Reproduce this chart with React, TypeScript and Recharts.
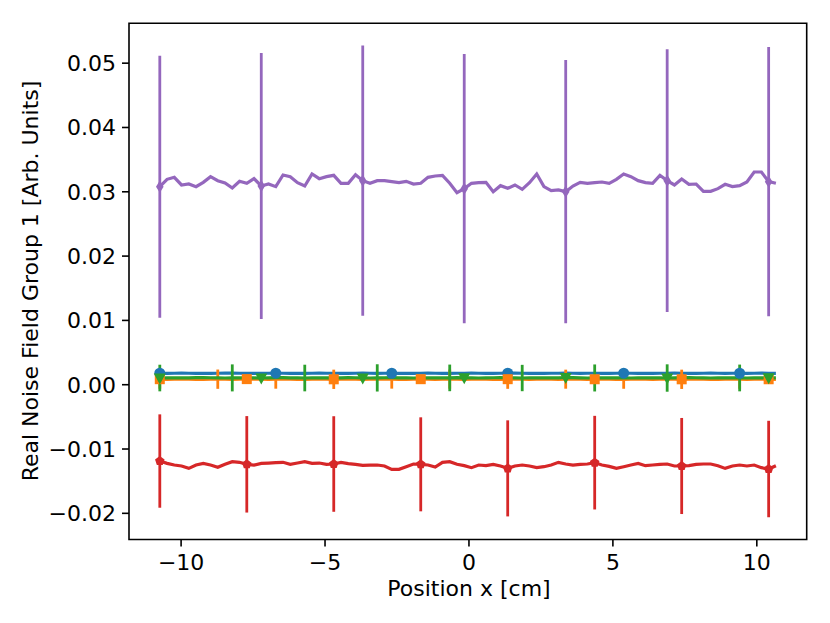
import React from 'react';
import { ComposedChart, Line, XAxis, YAxis, ErrorBar, ReferenceArea } from 'recharts';

// ---------- data ----------
const xValues = [
  -10.740, -10.488, -10.236, -9.985, -9.733, -9.481, -9.229, -8.977, -8.726, -8.474,
  -8.222, -7.970, -7.718, -7.467, -7.215, -6.963, -6.711, -6.459, -6.208, -5.956,
  -5.704, -5.452, -5.200, -4.949, -4.697, -4.445, -4.193, -3.941, -3.690, -3.438,
  -3.186, -2.934, -2.682, -2.431, -2.179, -1.927, -1.675, -1.423, -1.172, -0.920,
  -0.668, -0.416, -0.164, 0.087, 0.339, 0.591, 0.843, 1.095, 1.346, 1.598,
  1.850, 2.102, 2.354, 2.605, 2.857, 3.109, 3.361, 3.613, 3.864, 4.116,
  4.368, 4.620, 4.872, 5.123, 5.375, 5.627, 5.879, 6.131, 6.382, 6.634,
  6.886, 7.138, 7.390, 7.641, 7.893, 8.145, 8.397, 8.649, 8.900, 9.152,
  9.404, 9.656, 9.908, 10.159, 10.411, 10.663,
];

const blueValues = [
  0.00178, 0.00177, 0.00178, 0.00179, 0.00178, 0.00177, 0.00176, 0.00177, 0.00178, 0.00179,
  0.00179, 0.00178, 0.00177, 0.00177, 0.00178, 0.00178, 0.00179, 0.00178, 0.00177, 0.00176,
  0.00177, 0.00178, 0.00179, 0.00178, 0.00178, 0.00177, 0.00177, 0.00178, 0.00179, 0.00178,
  0.00177, 0.00178, 0.00178, 0.00177, 0.00176, 0.00177, 0.00178, 0.00179, 0.00178, 0.00177,
  0.00177, 0.00178, 0.00178, 0.00179, 0.00178, 0.00177, 0.00177, 0.00178, 0.00179, 0.00179,
  0.00178, 0.00177, 0.00176, 0.00177, 0.00178, 0.00178, 0.00179, 0.00178, 0.00177, 0.00178,
  0.00178, 0.00177, 0.00177, 0.00178, 0.00179, 0.00178, 0.00177, 0.00176, 0.00177, 0.00178,
  0.00178, 0.00179, 0.00178, 0.00177, 0.00177, 0.00178, 0.00179, 0.00178, 0.00177, 0.00178,
  0.00178, 0.00177, 0.00178, 0.00179, 0.00178, 0.00177,
];

const orangeValues = [
  0.00086, 0.00084, 0.00085, 0.00087, 0.00086, 0.00084, 0.00083, 0.00085, 0.00086, 0.00085,
  0.00084, 0.00085, 0.00087, 0.00086, 0.00085, 0.00084, 0.00085, 0.00086, 0.00085, 0.00083,
  0.00084, 0.00086, 0.00087, 0.00085, 0.00084, 0.00085, 0.00086, 0.00085, 0.00084, 0.00085,
  0.00086, 0.00087, 0.00085, 0.00084, 0.00083, 0.00085, 0.00086, 0.00085, 0.00084, 0.00086,
  0.00087, 0.00085, 0.00084, 0.00085, 0.00086, 0.00085, 0.00083, 0.00084, 0.00086, 0.00087,
  0.00085, 0.00084, 0.00085, 0.00086, 0.00085, 0.00084, 0.00086, 0.00087, 0.00085, 0.00084,
  0.00085, 0.00086, 0.00085, 0.00083, 0.00084, 0.00086, 0.00087, 0.00085, 0.00084, 0.00085,
  0.00086, 0.00085, 0.00084, 0.00086, 0.00087, 0.00085, 0.00084, 0.00083, 0.00085, 0.00086,
  0.00085, 0.00084, 0.00086, 0.00087, 0.00085, 0.00084,
];

const greenValues = [
  0.00104, 0.00106, 0.00108, 0.00107, 0.00105, 0.00109, 0.00111, 0.00108, 0.00105, 0.00104,
  0.00106, 0.00108, 0.00107, 0.00105, 0.00104, 0.00106, 0.00109, 0.00110, 0.00107, 0.00105,
  0.00104, 0.00106, 0.00108, 0.00107, 0.00105, 0.00106, 0.00109, 0.00108, 0.00105, 0.00104,
  0.00106, 0.00108, 0.00110, 0.00107, 0.00105, 0.00104, 0.00106, 0.00108, 0.00107, 0.00105,
  0.00106, 0.00109, 0.00107, 0.00105, 0.00104, 0.00106, 0.00108, 0.00110, 0.00108, 0.00105,
  0.00104, 0.00106, 0.00108, 0.00107, 0.00105, 0.00106, 0.00112, 0.00109, 0.00106, 0.00104,
  0.00105, 0.00107, 0.00108, 0.00106, 0.00105, 0.00104, 0.00106, 0.00108, 0.00107, 0.00105,
  0.00104, 0.00106, 0.00109, 0.00111, 0.00108, 0.00105, 0.00104, 0.00106, 0.00108, 0.00107,
  0.00105, 0.00104, 0.00106, 0.00108, 0.00107, 0.00105,
];

const redValues = [
  -0.01187, -0.01223, -0.01249, -0.01264, -0.01301, -0.01249, -0.01223, -0.01249, -0.01285, -0.01238,
  -0.01197, -0.01207, -0.01238, -0.01249, -0.01223, -0.01218, -0.01212, -0.01207, -0.01238, -0.01218,
  -0.01197, -0.01223, -0.01218, -0.01238, -0.01233, -0.01207, -0.01228, -0.01238, -0.01254, -0.01249,
  -0.01249, -0.01264, -0.01316, -0.01316, -0.01275, -0.01233, -0.01238, -0.01249, -0.01280, -0.01207,
  -0.01197, -0.01238, -0.01259, -0.01290, -0.01249, -0.01259, -0.01238, -0.01264, -0.01301, -0.01264,
  -0.01249, -0.01264, -0.01290, -0.01275, -0.01249, -0.01207, -0.01233, -0.01249, -0.01238, -0.01233,
  -0.01212, -0.01249, -0.01270, -0.01301, -0.01275, -0.01249, -0.01223, -0.01259, -0.01249, -0.01238,
  -0.01233, -0.01264, -0.01264, -0.01259, -0.01238, -0.01233, -0.01233, -0.01259, -0.01301, -0.01264,
  -0.01249, -0.01264, -0.01249, -0.01290, -0.01311, -0.01259,
];

const purpleValues = [
  0.03080, 0.03194, 0.03225, 0.03106, 0.03121, 0.03080, 0.03147, 0.03235, 0.03173, 0.03137,
  0.03059, 0.03163, 0.03132, 0.03204, 0.03090, 0.03121, 0.03080, 0.03261, 0.03235, 0.03142,
  0.03090, 0.03277, 0.03204, 0.03235, 0.03256, 0.03132, 0.03132, 0.03266, 0.03173, 0.03132,
  0.03173, 0.03173, 0.03158, 0.03142, 0.03163, 0.03121, 0.03132, 0.03225, 0.03246, 0.03256,
  0.03132, 0.02987, 0.03049, 0.03132, 0.03142, 0.03147, 0.03002, 0.03095, 0.03054, 0.03106,
  0.03038, 0.03142, 0.03277, 0.03080, 0.03018, 0.03028, 0.03002, 0.03090, 0.03147, 0.03132,
  0.03142, 0.03152, 0.03132, 0.03194, 0.03277, 0.03235, 0.03173, 0.03142, 0.03132, 0.03256,
  0.03173, 0.03106, 0.03199, 0.03116, 0.03121, 0.03007, 0.03007, 0.03049, 0.03116, 0.03080,
  0.03095, 0.03152, 0.03308, 0.03308, 0.03158, 0.03132,
];

// error bar half-lengths, one per error-bar position
const purpleErrors = [0.02037, 0.02068, 0.02100, 0.02095, 0.02048, 0.02042, 0.02095];
const redErrors = [0.00726, 0.00750, 0.00743, 0.00731, 0.00747, 0.00728, 0.00747, 0.00750];
const orangeErrors = [0.00148, 0.00150, 0.00147, 0.00150, 0.00146, 0.00149, 0.00150, 0.00148, 0.00147, 0.00150, 0.00148];
const greenErrors = [0.00207, 0.00210, 0.00207, 0.00212, 0.00207, 0.00205, 0.00210, 0.00213, 0.00208];

// every n-th sample carries a marker / error bar
const PURPLE_EVERY = 14;
const RED_EVERY = 12;
const BLUE_MARK_EVERY = 16;
const ORANGE_MARK_EVERY = 12;
const ORANGE_ERR_EVERY = 8;
const GREEN_MARK_EVERY = 14;
const GREEN_ERR_EVERY = 10;

const xTicks = [-10, -5, 0, 5, 10];
const yTicks = [-0.02, -0.01, 0, 0.01, 0.02, 0.03, 0.04, 0.05];
const X_DOMAIN: [number, number] = [-11.81, 11.733];
const Y_DOMAIN: [number, number] = [-0.02407, 0.0562];

const C_BLUE = '#1f77b4';
const C_ORANGE = '#ff7f0e';
const C_GREEN = '#2ca02c';
const C_RED = '#d62728';
const C_PURPLE = '#9467bd';

const sparse = (i: number, every: number, arr: number[]) =>
  i % every === 0 && arr[i / every] !== undefined ? arr[i / every] : undefined;

const data = xValues.map((x, i) => ({
  x,
  blue: blueValues[i],
  orange: orangeValues[i],
  green: greenValues[i],
  red: redValues[i],
  purple: purpleValues[i],
  orangeErr: sparse(i, ORANGE_ERR_EVERY, orangeErrors),
  greenErr: sparse(i, GREEN_ERR_EVERY, greenErrors),
  redErr: sparse(i, RED_EVERY, redErrors),
  purpleErr: sparse(i, PURPLE_EVERY, purpleErrors),
}));

const makeDot = (every: number, shape: string, color: string) => (props: any) => {
  const { cx, cy, index } = props;
  const key = `${shape}-${index}`;
  if (index % every !== 0 || cx == null || cy == null) return <g key={key} />;
  if (shape === 'circle') return <circle key={key} cx={cx} cy={cy} r={5.5} fill={color} />;
  if (shape === 'square') return <rect key={key} x={cx - 5} y={cy - 5} width={10} height={10} fill={color} />;
  if (shape === 'tri') {
    const pts = `${cx - 6},${cy - 4.5} ${cx + 6},${cy - 4.5} ${cx},${cy + 6.5}`;
    return <polygon key={key} points={pts} fill={color} />;
  }
  if (shape === 'penta') {
    const r = 5;
    const pts = [0, 1, 2, 3, 4]
      .map((k) => {
        const a = -Math.PI / 2 + (k * 2 * Math.PI) / 5;
        return `${cx + r * Math.cos(a)},${cy + r * Math.sin(a)}`;
      })
      .join(' ');
    return <polygon key={key} points={pts} fill={color} />;
  }
  // thin diamond
  const pts = `${cx},${cy - 6.2} ${cx + 3.8},${cy} ${cx},${cy + 6.2} ${cx - 3.8},${cy}`;
  return <polygon key={key} points={pts} fill={color} />;
};

const fmtY = (v: number) => {
  const s = Math.abs(v).toFixed(2);
  return v < -1e-9 ? `\u2212${s}` : s;
};
const fmtX = (v: number) => (v < 0 ? `\u2212${Math.abs(v)}` : `${v}`);

const FONT = 'DejaVu Sans';
const FS = 22;
const tickStyle = { fill: '#000', fontSize: FS, fontFamily: FONT };
const LW = 3.2;
const ELW = 2.8;

export default function App() {
  return (
    <div style={{ position: 'relative', width: 814, height: 607, background: '#fff' }}>
      <ComposedChart
        width={814}
        height={607}
        data={data}
        margin={{ top: 15.3, right: 15.3, left: 0, bottom: 35.5 }}
      >
        <XAxis
          type="number"
          dataKey="x"
          domain={X_DOMAIN}
          allowDataOverflow
          ticks={xTicks}
          tickFormatter={fmtX}
          axisLine={false}
          tickLine={{ stroke: '#000', strokeWidth: 1.6 }}
          tickSize={7}
          tickMargin={8}
          tick={tickStyle}
          height={40}
          interval={0}
        />
        <YAxis
          type="number"
          domain={Y_DOMAIN}
          allowDataOverflow
          ticks={yTicks}
          tickFormatter={fmtY}
          axisLine={false}
          tickLine={{ stroke: '#000', strokeWidth: 1.6 }}
          tickSize={7}
          tickMargin={6}
          tick={tickStyle}
          width={121}
          interval={0}
        />
        <Line
          dataKey="blue"
          stroke={C_BLUE}
          strokeWidth={LW}
          dot={makeDot(BLUE_MARK_EVERY, 'circle', C_BLUE)}
          activeDot={false}
          isAnimationActive={false}
          type="linear"
        />
        <Line
          dataKey="orange"
          stroke={C_ORANGE}
          strokeWidth={LW}
          dot={makeDot(ORANGE_MARK_EVERY, 'square', C_ORANGE)}
          activeDot={false}
          isAnimationActive={false}
          type="linear"
        >
          <ErrorBar dataKey="orangeErr" width={0} stroke={C_ORANGE} strokeWidth={ELW} direction="y" />
        </Line>
        <Line
          dataKey="green"
          stroke={C_GREEN}
          strokeWidth={LW}
          dot={makeDot(GREEN_MARK_EVERY, 'tri', C_GREEN)}
          activeDot={false}
          isAnimationActive={false}
          type="linear"
        >
          <ErrorBar dataKey="greenErr" width={0} stroke={C_GREEN} strokeWidth={ELW} direction="y" />
        </Line>
        <Line
          dataKey="red"
          stroke={C_RED}
          strokeWidth={LW}
          dot={makeDot(RED_EVERY, 'penta', C_RED)}
          activeDot={false}
          isAnimationActive={false}
          type="linear"
        >
          <ErrorBar dataKey="redErr" width={0} stroke={C_RED} strokeWidth={ELW} direction="y" />
        </Line>
        <Line
          dataKey="purple"
          stroke={C_PURPLE}
          strokeWidth={LW}
          dot={makeDot(PURPLE_EVERY, 'diamond', C_PURPLE)}
          activeDot={false}
          isAnimationActive={false}
          type="linear"
        >
          <ErrorBar dataKey="purpleErr" width={0} stroke={C_PURPLE} strokeWidth={ELW} direction="y" />
        </Line>
        <ReferenceArea
          x1={X_DOMAIN[0]}
          x2={X_DOMAIN[1]}
          y1={Y_DOMAIN[0]}
          y2={Y_DOMAIN[1]}
          fill="none"
          fillOpacity={0}
          stroke="#000"
          strokeWidth={1.6}
          strokeOpacity={1}
          ifOverflow="visible"
        />
      </ComposedChart>
      <div
        style={{
          position: 'absolute',
          left: 161,
          width: 600,
          top: 569.9,
          textAlign: 'center',
          fontFamily: FONT,
          fontSize: FS,
          lineHeight: `${FS}px`,
          color: '#000',
          whiteSpace: 'nowrap',
        }}
      >
        Position x [cm]
      </div>
      <div
        style={{
          position: 'absolute',
          left: 22.7 - 250,
          width: 500,
          top: 273.4 - FS / 2,
          height: FS,
          textAlign: 'center',
          fontFamily: FONT,
          fontSize: FS,
          lineHeight: `${FS}px`,
          color: '#000',
          whiteSpace: 'nowrap',
          transform: 'rotate(-90deg)',
          transformOrigin: '50% 50%',
        }}
      >
        Real Noise Field Group 1 [Arb. Units]
      </div>
    </div>
  );
}
